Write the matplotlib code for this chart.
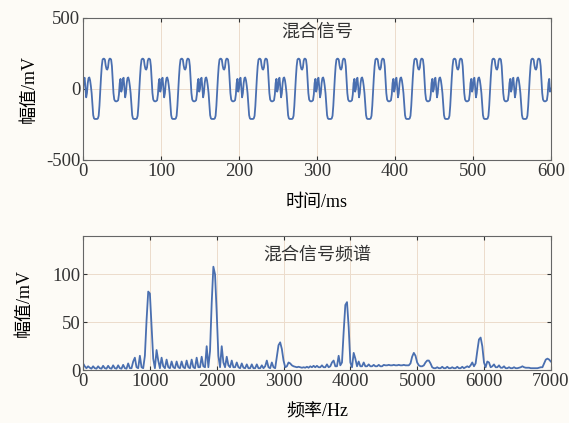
import numpy as np
import matplotlib
matplotlib.use("Agg")
import matplotlib.pyplot as plt

plt.rcParams['font.family'] = ['Liberation Serif', 'Noto Sans CJK SC']
plt.rcParams['axes.unicode_minus'] = False

# one 50 ms period of the mixed signal, sampled every 1 ms (mV)
period_ms = 50
period_vals = [0, 70, 78, 10, -60, -30, 40, 75, 80, 60,
               20, -30, -110, -185, -208, -212, -212, -212, -212, -208,
               -190, -120, -20, 80, 160, 205, 212, 212, 205, 165,
               140, 135, 150, 198, 212, 212, 205, 160, 60, -30,
               -75, -85, -88, -88, -85, -80, -40, 40, 70, -20]
n_periods = 12

# spectrum, 25 Hz steps from 0 to 7000 Hz (mV)
spec_step = 25
spec_amp = [
    7, 4, 2, 4, 2.5, 1.5, 4, 2, 1.5, 4, 2, 1.5, 4.5, 2, 1.5, 4.5, 2, 1.5, 5, 2,
    1.5, 5, 2, 1.5, 5.5, 2, 1.5, 7, 2, 2, 9, 13, 3, 2, 15, 3, 2, 15, 52, 82,
    80, 45, 12, 2, 21, 10, 2, 13, 4, 2, 11, 3, 2, 9, 3, 2, 9, 3, 2, 9,
    3, 2, 10, 3, 2, 11, 3, 2, 13, 3, 3, 14, 4, 3, 25, 3, 20, 70, 108, 100,
    60, 15, 3, 25, 8, 3, 14, 5, 3, 10, 3, 3, 8, 3, 2, 7, 2.5, 2, 6, 2,
    2, 6, 2, 2, 6, 2, 2, 5, 2, 4, 10, 3, 2, 8, 3, 2, 14, 26, 29, 22,
    10, 3, 4, 8, 7, 5, 4, 3.5, 3, 3.5, 3, 2.5, 3, 2.5, 3.5, 2.5, 4, 3, 4.5, 3,
    4.5, 3, 3, 5, 3, 3, 6, 3, 4, 8, 10, 4, 4, 15, 5, 8, 40, 68, 71, 45,
    8, 3, 18, 12, 4, 9, 4, 4, 8, 4, 4, 6, 4, 4, 5.5, 4, 4, 5.5, 4, 4,
    5.5, 5, 5, 5.5, 5, 5, 5.5, 5, 5, 5.5, 5, 5, 5.5, 5, 5, 5, 7, 14, 18, 15,
    8, 5, 4, 4, 5, 8, 10, 10, 7, 3, 2, 2, 3, 2, 2, 3.5, 2, 2, 3.5, 2,
    2, 3, 2, 2, 3.5, 2, 2, 3.5, 2, 3, 4, 3, 5, 8, 4, 7, 20, 32, 34, 25,
    8, 3, 9, 8, 3, 4, 6, 3, 3, 5, 2.5, 2.5, 4, 2, 2, 3, 2, 2, 3, 2,
    2, 2.5, 3, 4, 3, 2.5, 2.5, 2.5, 2, 2, 2, 2, 2, 2.5, 3, 3, 7, 11, 12, 11,
    9,
]

time_ticks = [0, 100, 200, 300, 400, 500, 600]
freq_ticks = [0, 1000, 2000, 3000, 4000, 5000, 6000, 7000]

sig = np.tile(period_vals, n_periods)
sig = np.append(sig, period_vals[0])
t = np.arange(len(sig)) * (period_ms / len(period_vals))
freq = np.arange(len(spec_amp)) * spec_step

bg = '#fdfbf6'
line_c = '#4a6fb0'
grid_c = '#ecdccb'

fig = plt.figure(figsize=(5.69, 4.23), dpi=100, facecolor=bg)
ax1 = fig.add_axes([0.146, 0.622, 0.822, 0.336])
ax2 = fig.add_axes([0.146, 0.125, 0.822, 0.317])

for ax in (ax1, ax2):
    ax.set_facecolor(bg)
    ax.grid(True, color=grid_c, linewidth=0.7)
    ax.set_axisbelow(True)
    ax.tick_params(direction='in', top=True, right=True, labelsize=13.5,
                   colors='#333333', length=3, pad=2)
    for s in ax.spines.values():
        s.set_color('#666666')
        s.set_linewidth(0.8)

ax1.plot(t, sig, color=line_c, linewidth=1.3)
ax1.set_xlim(0, 600)
ax1.set_ylim(-500, 500)
ax1.set_xticks(time_ticks)
ax1.set_yticks([-500, 0, 500])
ax1.set_xlabel('时间/ms', fontsize=13, labelpad=10)
ax1.set_ylabel('幅值/mV', fontsize=13, labelpad=6)
ax1.text(0.5, 0.9, '混合信号', transform=ax1.transAxes, ha='center',
         va='center', fontsize=13, color='#333333')

ax2.plot(freq, spec_amp, color=line_c, linewidth=1.3)
ax2.set_xlim(0, 7000)
ax2.set_ylim(0, 140)
ax2.set_xticks(freq_ticks)
ax2.set_yticks([0, 50, 100])
ax2.set_xlabel('频率/Hz', fontsize=13, labelpad=10)
ax2.set_ylabel('幅值/mV', fontsize=13, labelpad=14)
ax2.text(0.5, 0.86, '混合信号频谱', transform=ax2.transAxes, ha='center',
         va='center', fontsize=13, color='#333333')

fig.savefig('out.png', dpi=100, facecolor=bg)
